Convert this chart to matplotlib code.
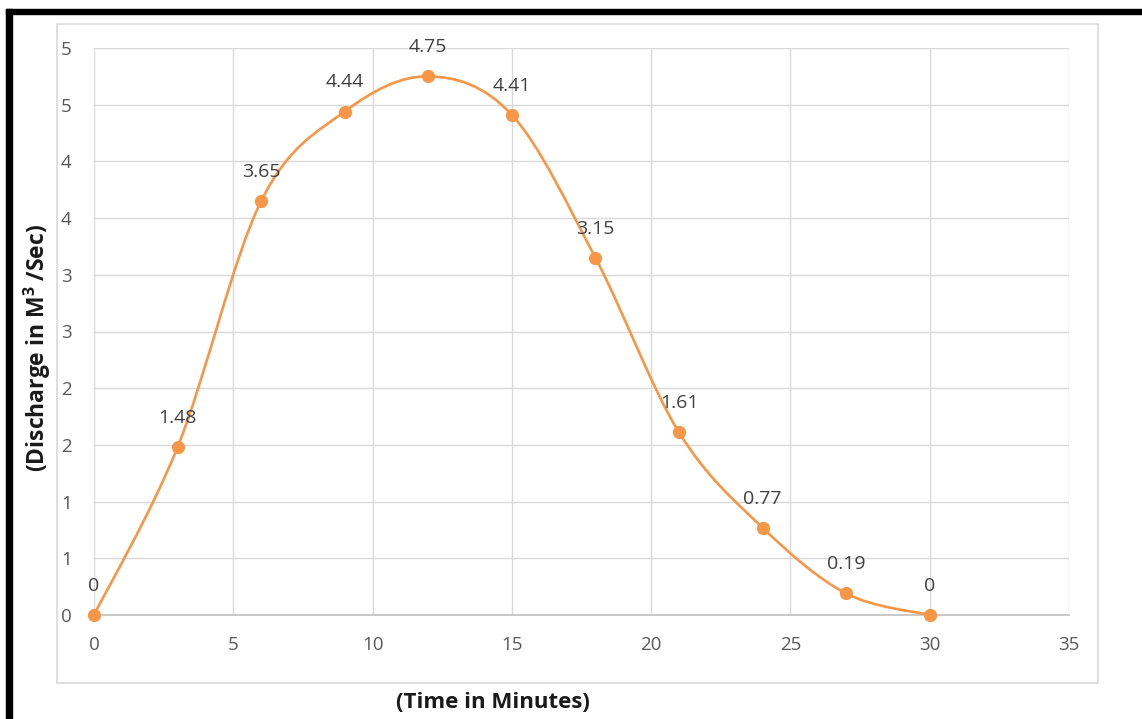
import matplotlib
matplotlib.use("Agg")
import matplotlib.pyplot as plt
from matplotlib.path import Path
from matplotlib.patches import PathPatch, Rectangle

plt.rcParams['font.family'] = ['Open Sans', 'DejaVu Sans']
plt.rcParams['mathtext.fontset'] = 'custom'
plt.rcParams['mathtext.rm'] = 'Open Sans'
plt.rcParams['mathtext.bf'] = 'Open Sans:bold'

# dados
tempo = [0, 3, 6, 9, 12, 15, 18, 21, 24, 27, 30]
vazao = [0, 1.48, 3.65, 4.44, 4.75, 4.41, 3.15, 1.61, 0.77, 0.19, 0]
rotulos = ["0", "1.48", "3.65", "4.44", "4.75", "4.41", "3.15", "1.61", "0.77", "0.19", "0"]
x_ticks = [0, 5, 10, 15, 20, 25, 30, 35]
y_ticks = [0, 0.5, 1, 1.5, 2, 2.5, 3, 3.5, 4, 4.5, 5]
y_tick_labels = ["0", "1", "1", "2", "2", "3", "3", "4", "4", "5", "5"]

LARANJA = "#F79646"
CINZA = "#595959"

W, H = 1142, 719
fig = plt.figure(figsize=(W / 100, H / 100), dpi=100)

# moldura preta (so topo e esquerda aparecem) e caixa cinza do grafico
fig.patches.append(Rectangle((6 / W, 0), 6 / W, 1 - 9 / H, transform=fig.transFigure,
                             color="black", zorder=0))
fig.patches.append(Rectangle((6 / W, 1 - 14 / H), 1 - 6 / W, 5 / H, transform=fig.transFigure,
                             color="black", zorder=0))
fig.patches.append(Rectangle((57 / W, 1 - 683 / H), 1041 / W, 659 / H, transform=fig.transFigure,
                             fill=False, edgecolor="#D9D9D9", lw=1.2, zorder=0))

ax = fig.add_axes([94 / W, 1 - 615 / H, 975 / W, 567 / H])
ax.set_xlim(0, 35)
ax.set_ylim(0, 5)

# curva suavizada (bezier tipo Catmull-Rom, como o Excel)
pts = list(zip(tempo, vazao))
verts = [pts[0]]
codes = [Path.MOVETO]
n = len(pts)
for i in range(n - 1):
    p0 = pts[max(i - 1, 0)]
    p1 = pts[i]
    p2 = pts[i + 1]
    p3 = pts[min(i + 2, n - 1)]
    c1 = (p1[0] + (p2[0] - p0[0]) / 6, p1[1] + (p2[1] - p0[1]) / 6)
    c2 = (p2[0] - (p3[0] - p1[0]) / 6, p2[1] - (p3[1] - p1[1]) / 6)
    verts += [c1, c2, p2]
    codes += [Path.CURVE4] * 3
ax.add_patch(PathPatch(Path(verts, codes), fill=False, edgecolor=LARANJA, lw=1.9,
                       zorder=3, clip_on=False))
ax.plot(tempo, vazao, "o", color=LARANJA, markersize=8.5, zorder=4, clip_on=False)

for xi, yi, r in zip(tempo, vazao, rotulos):
    ax.annotate(r, (xi, yi), xytext=(0, 21), textcoords="offset points",
                ha="center", va="center", fontsize=14, color="#404040", zorder=5)

ax.set_xticks(x_ticks)
ax.set_yticks(y_ticks)
ax.set_yticklabels(y_tick_labels)
ax.tick_params(length=0, labelsize=13.5, labelcolor=CINZA)
ax.tick_params(axis="x", pad=15)
ax.tick_params(axis="y", pad=16)
ax.grid(True, color="#D9D9D9", lw=1)
ax.set_axisbelow(True)
for s in ["top", "right", "left"]:
    ax.spines[s].set_visible(False)
ax.spines["bottom"].set_color("#BFBFBF")
ax.spines["bottom"].set_linewidth(1.2)

fig.text(493 / W, 1 - 703 / H, "(Time in Minutes)", ha="center", va="center",
         fontsize=16, fontweight="bold", color="#1a1a1a")
fig.text(37 / W, 1 - 348 / H, "(Discharge in M$^\\mathbf{3}$ /Sec)", ha="center", va="center",
         rotation=90, fontsize=16.5, fontweight="bold", color="#1a1a1a")

fig.savefig("out.png", dpi=100)
